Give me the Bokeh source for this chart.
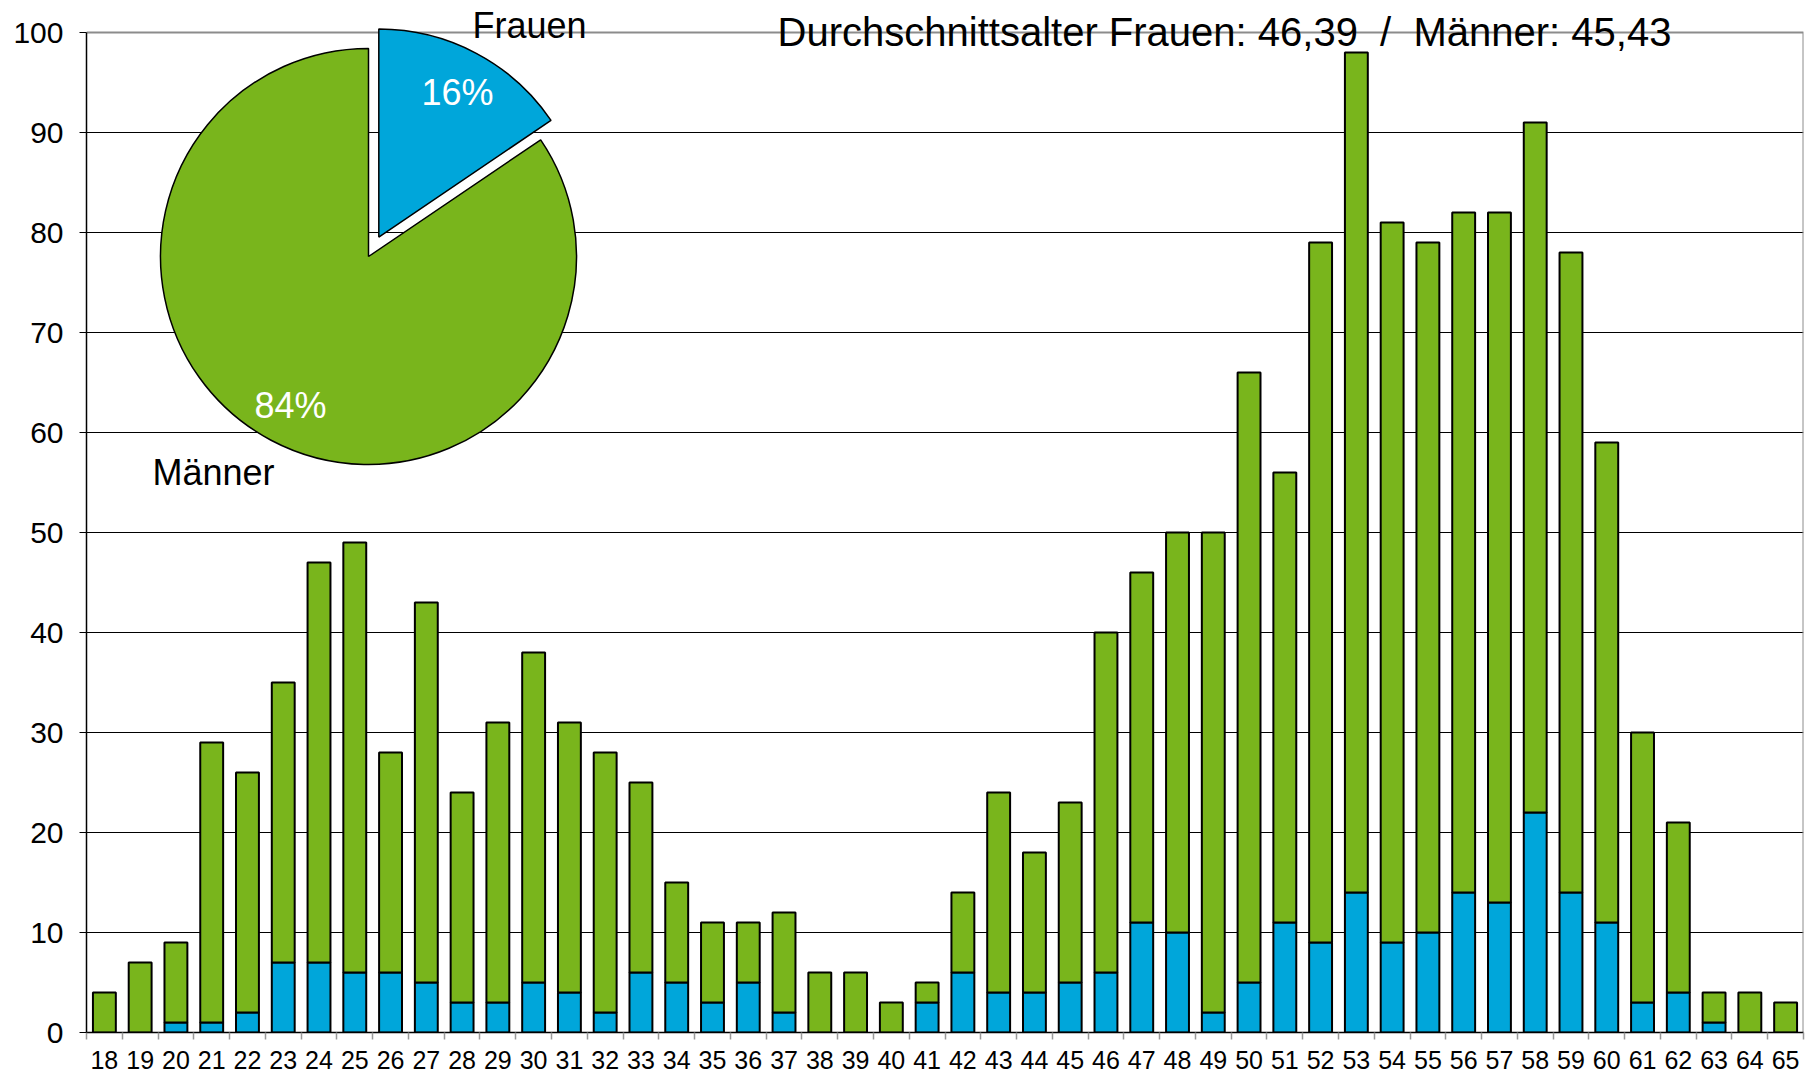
import numpy as np
from bokeh.plotting import figure
from bokeh.models import Range1d, FixedTicker, Label
from bokeh.embed import file_html
from bokeh.resources import INLINE

# ---------------- data ----------------
ages = list(range(18, 66))
total = [4, 7, 9, 29, 26, 35, 47, 49, 28, 43, 24, 31, 38, 31, 28, 25, 15, 11, 11, 12,
         6, 6, 3, 5, 14, 24, 18, 23, 40, 46, 50, 50, 66, 56, 79, 98, 81, 79, 82, 82,
         91, 78, 59, 30, 21, 4, 4, 3]
frauen = [0, 0, 1, 1, 2, 7, 7, 6, 6, 5, 3, 3, 5, 4, 2, 6, 5, 3, 5, 2,
          0, 0, 0, 3, 6, 4, 4, 5, 6, 11, 10, 2, 5, 11, 9, 14, 9, 10, 14, 13,
          22, 14, 11, 3, 4, 1, 0, 0]
y_ticks = list(range(0, 101, 10))
title_text = "Durchschnittsalter Frauen: 46,39 \u00a0/\u00a0 Männer: 45,43"
pie_labels = ["Frauen", "Männer"]

GREEN = "#79B51C"
BLUE = "#00A6DA"
FONT = "Liberation Sans"

W, H = 1810, 1075
BL, BR, BB = 86, 7, 43
FW, FH = W - BL - BR, H - BB          # frame reaches the top of the canvas
Y_TOP = 100 * FH / (FH - 32)          # value 100 sits 32 px below the top

x0, x1 = ages[0] - 0.5, ages[-1] + 0.5
p = figure(width=W, height=H, output_backend="svg", toolbar_location=None,
           x_range=Range1d(x0, x1), y_range=Range1d(0, Y_TOP),
           min_border_left=BL, min_border_right=BR, min_border_top=0, min_border_bottom=BB)
p.extra_x_ranges = {"px": Range1d(0, FW)}
p.extra_y_ranges = {"px": Range1d(0, FH)}

p.outline_line_color = None
p.background_fill_color = "white"
p.border_fill_color = "white"

# grid
p.xgrid.visible = False
p.ygrid.ticker = FixedTicker(ticks=y_ticks[:-1])
p.ygrid.grid_line_color = "black"
p.ygrid.grid_line_width = 1

# plot-area border (top and right, grey)
p.line(x=[x0, x1, x1], y=[y_ticks[-1], y_ticks[-1], 0], line_color="#8c8c8c", line_width=2)

# y axis
p.yaxis.ticker = FixedTicker(ticks=y_ticks)
p.yaxis.bounds = (0, y_ticks[-1])
p.yaxis.axis_line_color = "black"
p.yaxis.axis_line_width = 1.5
p.yaxis.major_tick_line_color = "black"
p.yaxis.major_tick_in = 0
p.yaxis.major_tick_out = 7
p.yaxis.minor_tick_line_color = None
p.yaxis.major_label_text_font = FONT
p.yaxis.major_label_text_font_size = "30px"
p.yaxis.major_label_text_color = "black"
p.yaxis.major_label_standoff = 16

# x axis
bounds = [a - 0.5 for a in ages] + [ages[-1] + 0.5]
p.xaxis.ticker = FixedTicker(ticks=ages, minor_ticks=bounds)
p.xaxis.axis_line_color = "black"
p.xaxis.axis_line_width = 1.5
p.xaxis.major_tick_line_color = None
p.xaxis.major_tick_in = 0
p.xaxis.major_tick_out = 0
p.xaxis.minor_tick_line_color = "#999999"
p.xaxis.minor_tick_line_width = 1.5
p.xaxis.minor_tick_in = 0
p.xaxis.minor_tick_out = 7
p.xaxis.major_label_text_font = FONT
p.xaxis.major_label_text_font_size = "25px"
p.xaxis.major_label_text_color = "black"
p.xaxis.major_label_standoff = 11

# bars
bw = 0.64
p.vbar(x=ages, top=frauen, bottom=0, width=bw, fill_color=BLUE,
       line_color="black", line_width=2)
p.vbar(x=ages, top=total, bottom=frauen, width=bw, fill_color=GREEN,
       line_color="black", line_width=2)

# pie (Frauen vs Männer)
sum_f = sum(frauen)
sum_m = sum(total) - sum_f
share_f = sum_f / (sum_f + sum_m)
share_m = 1 - share_f
cx, cy, r = 282, 776, 208
a_top = np.pi / 2
a_f_end = a_top - 2 * np.pi * share_f
mid = (a_top + a_f_end) / 2
off = 22
p.wedge(x=cx, y=cy, radius=r, radius_units="screen",
        start_angle=a_top, end_angle=a_f_end + 2 * np.pi,
        fill_color=GREEN, line_color="black", line_width=1.5,
        x_range_name="px", y_range_name="px")
p.wedge(x=cx + off * np.cos(mid), y=cy + off * np.sin(mid), radius=r, radius_units="screen",
        start_angle=a_f_end, end_angle=a_top,
        fill_color=BLUE, line_color="black", line_width=1.5,
        x_range_name="px", y_range_name="px")


def lab(x, y, text, size, color="black", align="center", baseline="middle"):
    p.add_layout(Label(x=x, y=y, text=text, x_range_name="px", y_range_name="px",
                       text_font=FONT, text_font_size=size, text_color=color,
                       text_align=align, text_baseline=baseline))


lab(371, 940, f"{round(share_f * 100)}%", "36px", "white")
lab(204, 627, f"{round(share_m * 100)}%", "36px", "white")
lab(127, 560, pie_labels[1], "36px")
lab(443, 1007, pie_labels[0], "36px")
lab(1138, FH - 31, title_text, "40px", baseline="alphabetic")

open("out.html", "w").write(file_html(p, INLINE))
